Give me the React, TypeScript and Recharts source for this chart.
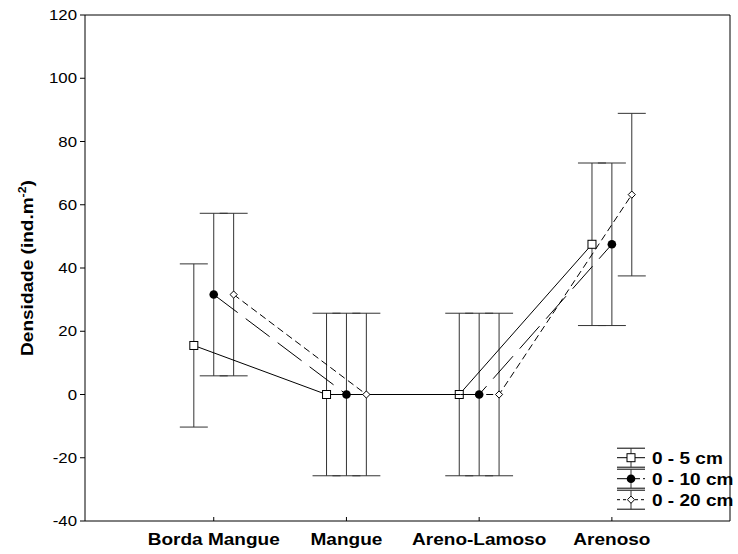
import React from 'react';
import { ComposedChart, Scatter, XAxis, YAxis, ErrorBar, Legend, Label, ReferenceLine } from 'recharts';

const categories = ['Borda Mangue', 'Mangue', 'Areno-Lamoso', 'Arenoso'];
const seriesLabels = ['0 - 5 cm', '0 - 10 cm', '0 - 20 cm'];
const dens5 = [15.5, 0, 0, 47.5];
const dens10 = [31.6, 0, 0, 47.5];
const dens20 = [31.6, 0, 0, 63.2];
const err5 = [25.8, 25.7, 25.7, 25.7];
const err10 = [25.7, 25.7, 25.7, 25.7];
const err20 = [25.7, 25.7, 25.7, 25.7];
const yTicks = [-40, -20, 0, 20, 40, 60, 80, 100, 120];
const catTicks = [1, 2, 3, 4];

const X_DOMAIN: [number, number] = [0.03, 4.89];
const Y_DOMAIN: [number, number] = [-40, 120];
const SHIFT = 0.15;
const FONT = "'Liberation Sans', Arial, Helvetica, sans-serif";
const STRETCH = 1.12;

const build = (vals: number[], errs: number[], shift: number) =>
  vals.map((v, i) => ({ x: i + 1 + shift, y: v, err: errs[i] }));

const data5 = build(dens5, err5, -SHIFT);
const data10 = build(dens10, err10, 0);
const data20 = build(dens20, err20, SHIFT);

const dash10 = '30 10';
const dash20 = '7 4';

const SquareShape = (p: any) => (
  <rect x={p.cx - 4} y={p.cy - 4} width={8} height={8} fill="#fff" stroke="#000" strokeWidth={1} />
);
const CircleShape = (p: any) => <circle cx={p.cx} cy={p.cy} r={4.3} fill="#000" />;
const DiamondShape = (p: any) => (
  <polygon
    points={`${p.cx},${p.cy - 3.6} ${p.cx + 3.6},${p.cy} ${p.cx},${p.cy + 3.6} ${p.cx - 3.6},${p.cy}`}
    fill="#fff"
    stroke="#000"
    strokeWidth={1}
  />
);

const YTick = (props: any) => {
  const { x, y, payload } = props;
  return (
    <g transform={`translate(${x},${y}) scale(${STRETCH},1)`}>
      <text x={0} y={0} dy={5} textAnchor="end" fontSize={15} fontFamily={FONT} fill="#000">
        {payload.value}
      </text>
    </g>
  );
};

const XTick = (props: any) => {
  const { x, y, payload } = props;
  return (
    <g>
      <line x1={x} x2={x} y1={y} y2={y - 4} stroke="#000" strokeWidth={1} />
      <g transform={`translate(${x},${y + 24}) scale(${STRETCH},1)`}>
        <text x={0} y={0} textAnchor="middle" fontSize={17} fontWeight="bold" fontFamily={FONT} fill="#000">
          {categories[payload.value - 1]}
        </text>
      </g>
    </g>
  );
};

const YTitle = (props: any) => {
  const vb = props.viewBox || { x: 25, y: 15, width: 60, height: 506 };
  const cx = vb.x + 8;
  const cy = vb.y + vb.height / 2;
  return (
    <text
      transform={`translate(${cx},${cy}) rotate(-90) scale(${STRETCH},1)`}
      textAnchor="middle"
      fontSize={17}
      fontWeight="bold"
      fontFamily={FONT}
      fill="#000"
    >
      Densidade (ind.m
      <tspan dy={-7} fontSize={11}>-2</tspan>
      <tspan dy={7}>)</tspan>
    </text>
  );
};

const LegendGraphic = () => {
  const markers = [
    (cx: number, cy: number) => <rect x={cx - 4} y={cy - 4} width={8} height={8} fill="#fff" stroke="#000" />,
    (cx: number, cy: number) => <circle cx={cx} cy={cy} r={4.3} fill="#000" />,
    (cx: number, cy: number) => (
      <polygon
        points={`${cx},${cy - 3.6} ${cx + 3.6},${cy} ${cx},${cy + 3.6} ${cx - 3.6},${cy}`}
        fill="#fff"
        stroke="#000"
      />
    ),
  ];
  const dashes = [undefined, '10 3', '3 3'];
  return (
    <svg width={125} height={72}>
      {seriesLabels.map((name, i) => {
        const cy = 13.7 + 21 * i;
        return (
          <g key={name}>
            <line x1={2} x2={30} y1={cy - 9.5} y2={cy - 9.5} stroke="#000" />
            <line x1={2} x2={30} y1={cy + 9.5} y2={cy + 9.5} stroke="#000" />
            <line x1={16} x2={16} y1={cy - 9.5} y2={cy + 9.5} stroke="#333" />
            <line x1={2} x2={30} y1={cy} y2={cy} stroke="#000" strokeDasharray={dashes[i]} />
            {markers[i](16, cy)}
            <g transform={`translate(37,${cy + 6}) scale(${STRETCH},1)`}>
              <text x={0} y={0} fontSize={17} fontWeight="bold" fontFamily={FONT} fill="#000">
                {name}
              </text>
            </g>
          </g>
        );
      })}
    </svg>
  );
};

export default function App() {
  return (
    <div style={{ position: 'absolute', left: 0, top: 0, width: 738, height: 554, background: '#fff' }}>
      <ComposedChart width={738} height={554} margin={{ top: 15, right: 8, bottom: 2, left: 25 }}>
        <XAxis
          dataKey="x"
          type="number"
          domain={X_DOMAIN}
          ticks={catTicks}
          allowDataOverflow
          height={31}
          tickSize={0}
          tickMargin={0}
          tickLine={false}
          axisLine={{ stroke: '#000', strokeWidth: 1 }}
          tick={<XTick />}
          interval={0}
        />
        <YAxis
          type="number"
          domain={Y_DOMAIN}
          ticks={yTicks}
          allowDataOverflow
          width={60}
          tickSize={5}
          tickMargin={3}
          tickLine={{ stroke: '#000' }}
          axisLine={{ stroke: '#000', strokeWidth: 1 }}
          tick={<YTick />}
          interval={0}
        >
          <Label content={<YTitle />} />
        </YAxis>
        <ReferenceLine y={Y_DOMAIN[1]} stroke="#000" strokeWidth={1} ifOverflow="visible" />
        <ReferenceLine x={X_DOMAIN[1]} stroke="#000" strokeWidth={1} ifOverflow="visible" />
        <Scatter
          name={seriesLabels[0]}
          data={data5}
          dataKey="y"
          isAnimationActive={false}
          shape={SquareShape}
          line={{ stroke: '#000', strokeWidth: 1 }}
          lineType="joint"
        >
          <ErrorBar dataKey="err" direction="y" width={14} stroke="#333" strokeWidth={1} />
        </Scatter>
        <Scatter
          name={seriesLabels[1]}
          data={data10}
          dataKey="y"
          isAnimationActive={false}
          shape={CircleShape}
          line={{ stroke: '#000', strokeWidth: 1, strokeDasharray: dash10 }}
          lineType="joint"
        >
          <ErrorBar dataKey="err" direction="y" width={14} stroke="#333" strokeWidth={1} />
        </Scatter>
        <Scatter
          name={seriesLabels[2]}
          data={data20}
          dataKey="y"
          isAnimationActive={false}
          shape={DiamondShape}
          line={{ stroke: '#000', strokeWidth: 1, strokeDasharray: dash20 }}
          lineType="joint"
        >
          <ErrorBar dataKey="err" direction="y" width={14} stroke="#333" strokeWidth={1} />
        </Scatter>
        <Legend
          layout="horizontal"
          verticalAlign="middle"
          align="center"
          content={() => <LegendGraphic />}
          wrapperStyle={{ position: 'absolute', left: 615, top: 444, width: 125, height: 72 }}
        />
      </ComposedChart>
    </div>
  );
}
